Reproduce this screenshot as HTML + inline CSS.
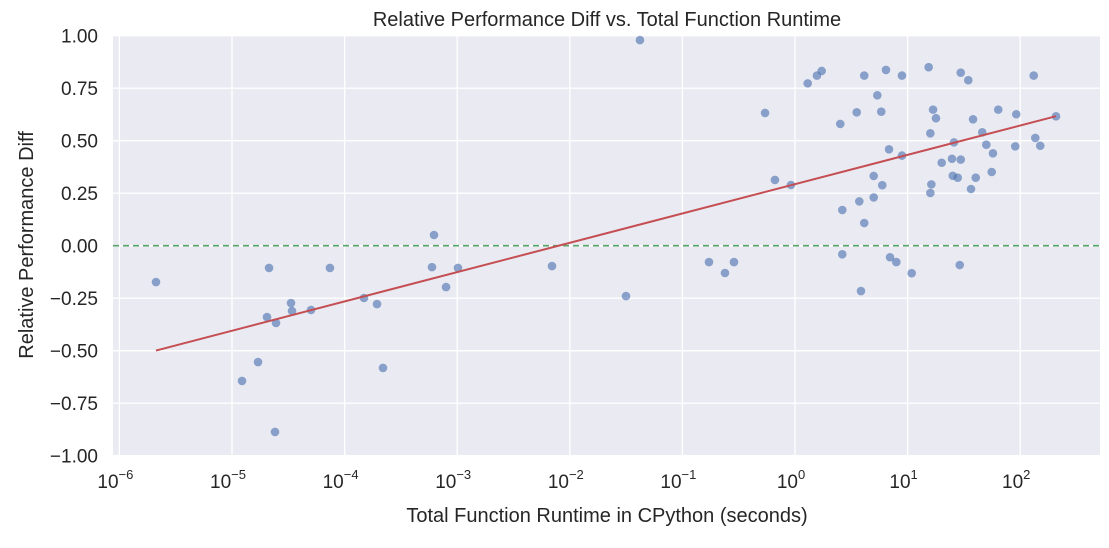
<!DOCTYPE html>
<html><head><meta charset="utf-8"><style>
body{margin:0;background:#fff;font-family:"Liberation Sans",Arial,sans-serif}
svg text{font-family:"Liberation Sans",Arial,sans-serif;fill:#262626}
</style></head><body>
<svg id="c" width="1109" height="543"></svg>
<script>
const xLog=[-5.675,-4.671,-4.689,-4.769,-4.911,-4.618,-4.609,-4.476,-4.467,-4.298,-4.130,-3.828,-3.712,-3.659,-3.224,-3.206,-3.099,-2.993,-2.158,-1.501,-1.377,-0.764,-0.622,-0.542,-0.266,-0.178,
0.113,0.195,0.237,0.615,0.808,0.950,1.187,1.472,1.539,2.120,0.731,0.548,0.766,0.402,1.226,1.252,1.581,1.805,1.965,2.318,1.202,1.663,1.412,1.699,2.134,2.178,1.956,0.835,0.950,1.758,1.303,1.394,1.472,0.699,0.775,1.401,1.445,1.605,1.747,1.211,1.202,1.563,-0.036,0.571,0.699,0.420,0.615,0.420,0.844,0.900,1.036,1.463,0.586];
const yVal=[-0.173,-0.106,-0.340,-0.554,-0.644,-0.887,-0.368,-0.273,-0.311,-0.306,-0.106,-0.249,-0.278,-0.582,-0.102,0.051,-0.197,-0.106,-0.097,-0.240,0.979,-0.078,-0.130,-0.078,0.632,0.313,
0.773,0.810,0.832,0.810,0.837,0.810,0.850,0.824,0.788,0.810,0.716,0.635,0.638,0.580,0.648,0.607,0.602,0.648,0.626,0.616,0.535,0.540,0.492,0.481,0.513,0.476,0.473,0.459,0.429,0.440,0.395,0.414,0.410,0.332,0.288,0.333,0.324,0.324,0.351,0.292,0.251,0.270,0.289,0.211,0.230,0.170,0.108,-0.041,-0.055,-0.078,-0.131,-0.092,-0.216];
const fitParams=[0.1396,0.293];
const xTicks=[-6,-5,-4,-3,-2,-1,0,1,2];
const yTicks=[1.00,0.75,0.50,0.25,0.00,-0.25,-0.50,-0.75,-1.00];
const NS='http://www.w3.org/2000/svg';
const svg=document.getElementById('c');
const L=113,R=1100,T=36,B=455;
const X=l=>795+112.6*l;
const Y=v=>245.7-210*v;
function mk(t,a,p){const e=document.createElementNS(NS,t);for(const k in a)e.setAttribute(k,a[k]);(p||svg).appendChild(e);return e;}
const bg=mk('rect',{x:L,y:T,width:R-L,height:B-T,fill:'#eaeaf2'});


yTicks.forEach(v=>{
 const g=mk('line',{x1:L,x2:R,y1:Y(v),y2:Y(v),stroke:'#fff','stroke-width':1.3});
 
 
 const t=mk('text',{x:98,y:Y(v)+7,'text-anchor':'end','font-size':19});
 t.textContent=(v<0?'\u2212':'')+Math.abs(v).toFixed(2);
 
 
});
xTicks.forEach(l=>{
 const x=X(l);
 if(x>L+2){const g=mk('line',{x1:x,x2:x,y1:T,y2:B,stroke:'#fff','stroke-width':1.3});
 
 }
 const t=mk('text',{x:x-4,y:488,'text-anchor':'middle','font-size':19});
 
 
 const a=mk('tspan',{},t);a.textContent='10';
 const b=mk('tspan',{dy:-9,'font-size':13},t);b.textContent=(l<0?'\u2212':'')+Math.abs(l);
});
const z=mk('line',{x1:L,x2:R,y1:Y(0),y2:Y(0),stroke:'#55a868','stroke-width':1.6,'stroke-dasharray':'6,4'});


xLog.forEach((l,i)=>{
 const c=mk('circle',{cx:X(l),cy:Y(yVal[i]),r:4.3,fill:'#4c72b0','fill-opacity':0.62});
 
 
});
const mn=Math.min(...xLog),mx=Math.max(...xLog);
const f=l=>fitParams[0]*l+fitParams[1];
const fl=mk('line',{x1:X(mn),y1:Y(f(mn)),x2:X(mx),y2:Y(f(mx)),stroke:'#c44e52','stroke-width':2});


const tt=mk('text',{x:607,y:26,'text-anchor':'middle','font-size':20});
tt.textContent='Relative Performance Diff vs. Total Function Runtime';


const xl=mk('text',{x:607,y:522,'text-anchor':'middle','font-size':20});
xl.textContent='Total Function Runtime in CPython (seconds)';


const yl=mk('text',{x:33,y:245,'text-anchor':'middle','font-size':20,transform:'rotate(-90 33 245)'});
yl.textContent='Relative Performance Diff';


</script>
</body></html>
